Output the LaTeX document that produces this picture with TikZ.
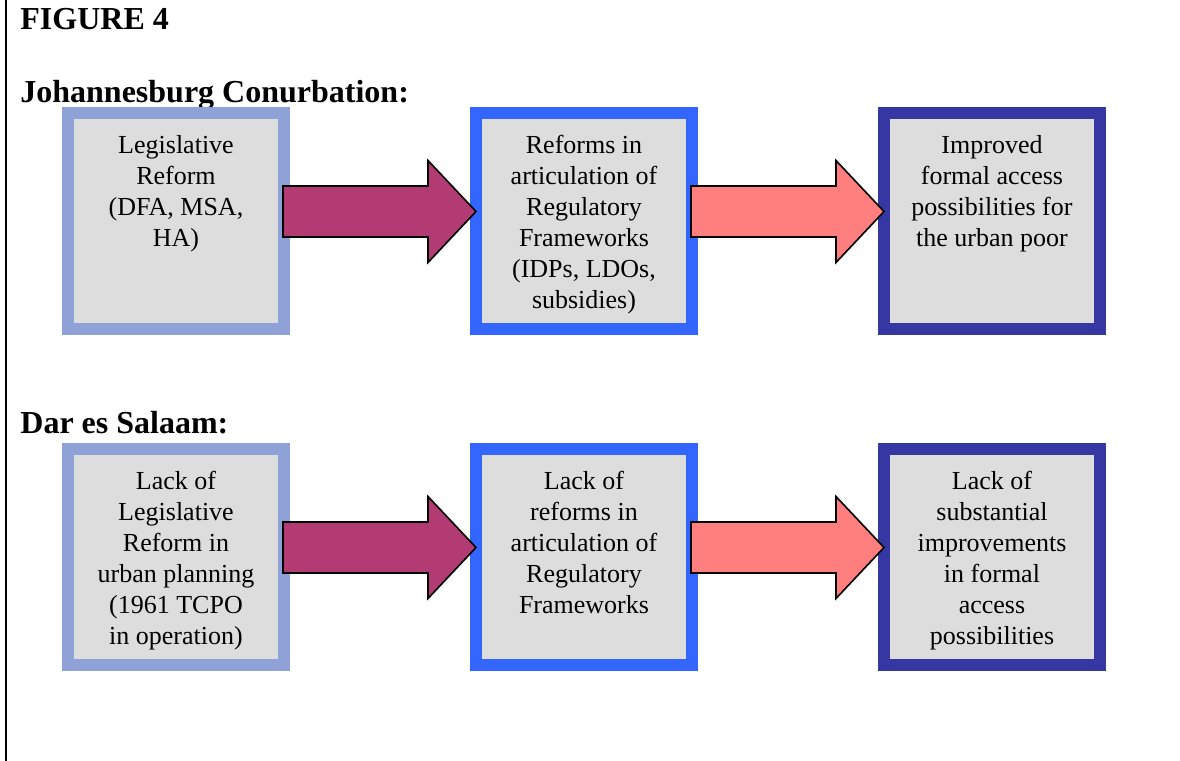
\documentclass[tikz,border=0pt]{standalone}
\usepackage{fontspec}
\setmainfont{Liberation Serif}
\usepackage{xcolor}
\usetikzlibrary{calc, positioning}

\definecolor{frameA}{HTML}{8FA2D8}
\definecolor{frameB}{HTML}{3366FF}
\definecolor{frameC}{HTML}{3737A3}
\definecolor{cellgray}{HTML}{DDDDDD}
\definecolor{plum}{HTML}{B33B74}
\definecolor{salmon}{HTML}{FF7F7F}

\begin{document}
\begin{tikzpicture}[x=0.5pt, y=-0.5pt, line join=miter,
		cell/.style={draw=#1, fill=cellgray, line width=5.75pt, outer sep=0pt,
			inner sep=0pt, minimum width=108pt, minimum height=108pt},
		celltext/.style={inner sep=0pt, align=center,
			font=\fontsize{13}{15.5}\selectfont},
		heading/.style={anchor=base west, inner sep=0pt,
			font=\fontsize{16}{19}\selectfont\bfseries},
		fatarrow/.style={draw=black, line width=0.8pt, fill=#1}]
		\useasboundingbox (0, 0) rectangle (1180, 761);
		\draw[line width=1pt] (6, 0) -- (6, 761);

		\node[heading] (fig) at (20, 29) {FIGURE 4};
		\node[heading] (jhb) at (20, 102) {Johannesburg Conurbation:};
		\node[heading] (dar) at (20, 433) {Dar es Salaam:};

		% Johannesburg row
		\node[cell=frameA] (j1) at (176, 221) {};
		\node[cell=frameB] (j2) at (584, 221) {};
		\node[cell=frameC] (j3) at (992, 221) {};
		\node[celltext, below=9.2pt of j1.north] (j1t) {\strut Legislative\\Reform\\(DFA, MSA,\\HA)};
		\node[celltext, below=9.2pt of j2.north] (j2t) {\strut Reforms in\\articulation of\\Regulatory\\Frameworks\\(IDPs, LDOs,\\subsidies)};
		\node[celltext, below=9.2pt of j3.north] (j3t) {\strut Improved\\formal access\\possibilities for\\the urban poor};

		% Dar es Salaam row
		\node[cell=frameA] (d1) at (176, 557) {};
		\node[cell=frameB] (d2) at (584, 557) {};
		\node[cell=frameC] (d3) at (992, 557) {};
		\node[celltext, below=9.2pt of d1.north] (d1t) {\strut Lack of\\Legislative\\Reform in\\urban planning\\(1961 TCPO\\in operation)};
		\node[celltext, below=9.2pt of d2.north] (d2t) {\strut Lack of\\reforms in\\articulation of\\Regulatory\\Frameworks};
		\node[celltext, below=9.2pt of d3.north] (d3t) {\strut Lack of\\substantial\\improvements\\in formal\\access\\possibilities};

		% block arrows between the boxes
		\foreach \a/\b/\c in {j1/j2/plum, j2/j3/salmon, d1/d2/plum, d2/d3/salmon} {
			\coordinate (s) at ($(\a.east)+(-1, -9.5)$);
			\coordinate (t) at ($(\b.west)+(0, -9.5)$);
			\draw[fatarrow=\c] ($(s)+(0, -25.5)$) -- ($(t)+(-48, -25.5)$)
				-- ($(t)+(-48, -51)$) -- (t) -- ($(t)+(-48, 51)$)
				-- ($(t)+(-48, 25.5)$) -- ($(s)+(0, 25.5)$) -- cycle;
		}
	\end{tikzpicture}
\end{document}
